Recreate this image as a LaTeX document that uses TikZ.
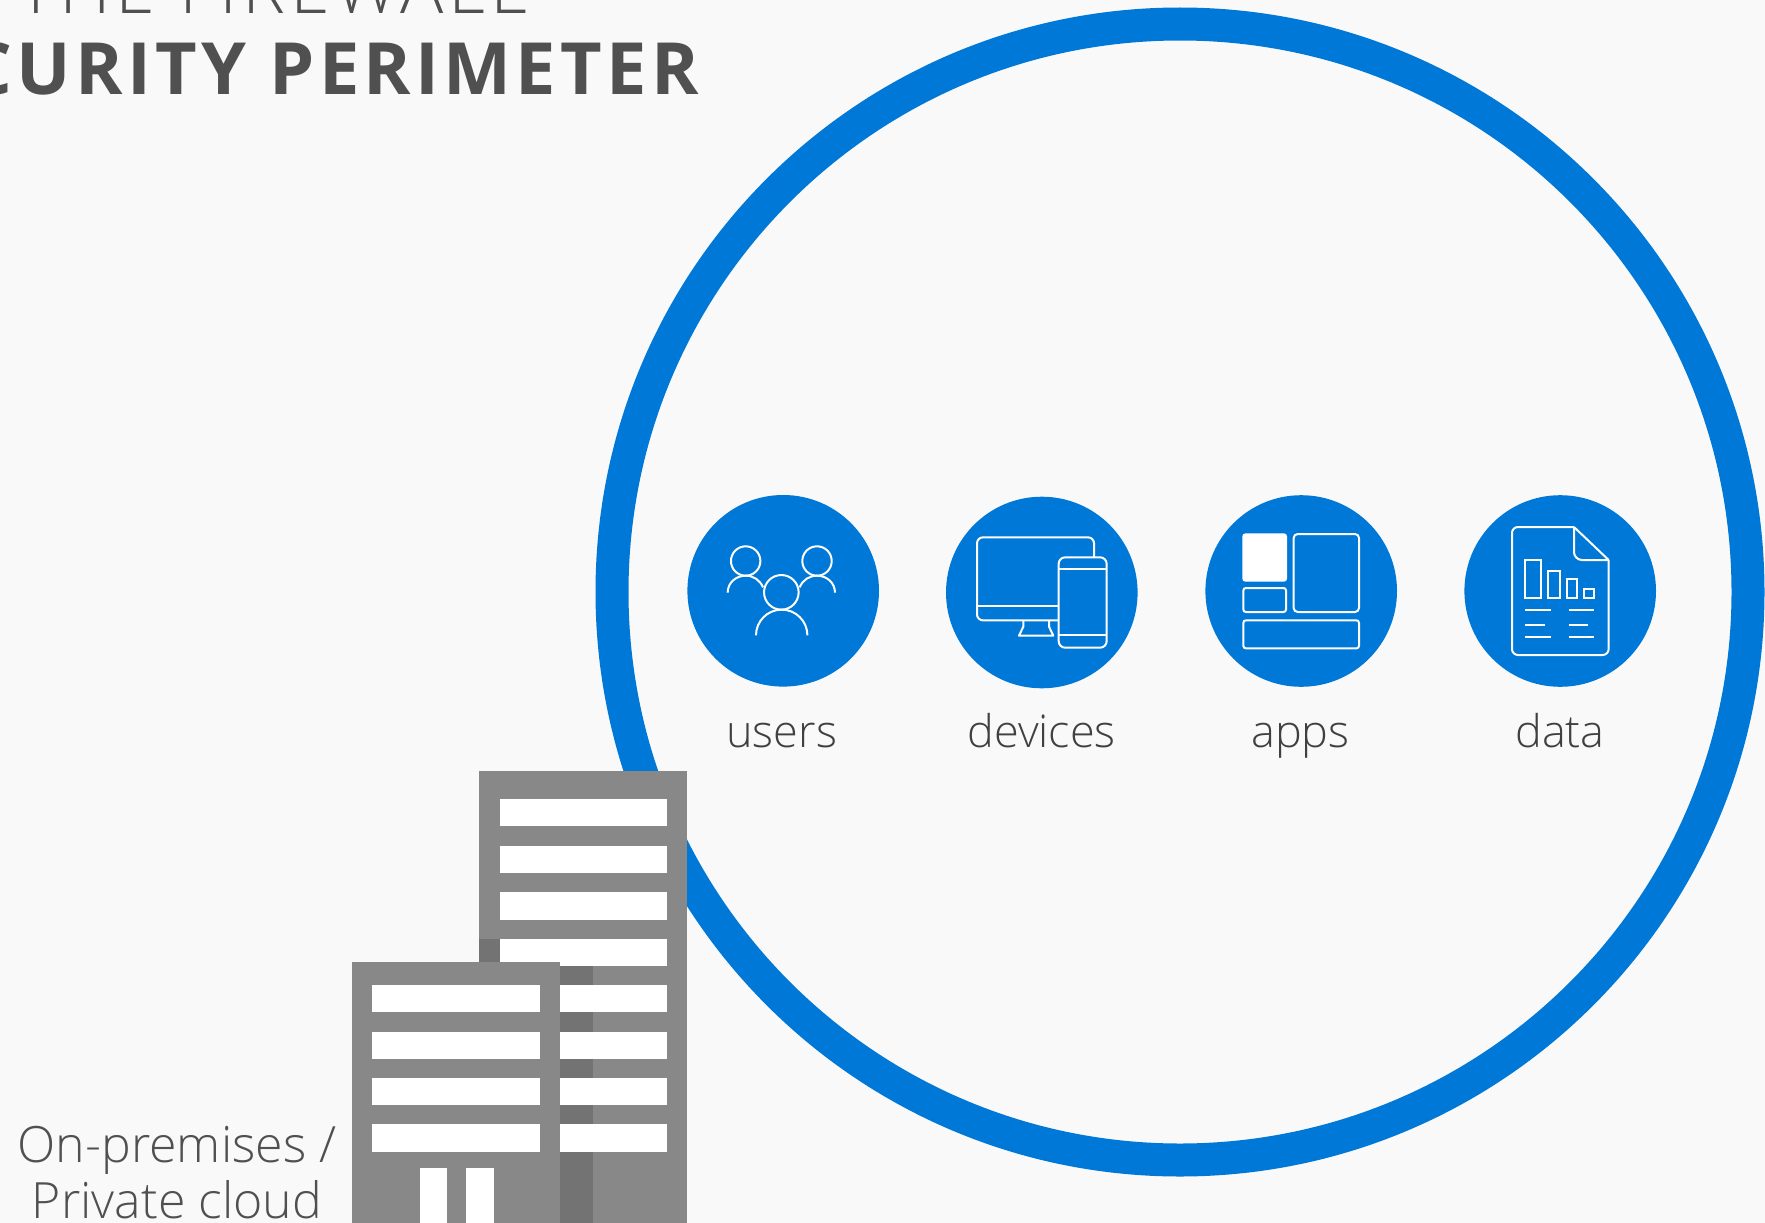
\documentclass[tikz,border=0pt]{standalone}
\usepackage{fontspec}
\setmainfont{Open Sans}
\newfontfamily\lightf[UprightFont={* Light}]{Open Sans}
\newfontfamily\lightspaced[UprightFont={* Light},LetterSpace=6.5]{Open Sans}
\newfontfamily\boldf[UprightFont={* Bold},LetterSpace=6]{Open Sans}
\definecolor{pagebg}{HTML}{F9F9F9}
\definecolor{msblue}{HTML}{0078D7}
\definecolor{bldg}{HTML}{888888}
\definecolor{bldgdark}{HTML}{737373}
\definecolor{labelgrey}{HTML}{404040}
\definecolor{titlegrey}{HTML}{505050}
\tikzset{
  badge/.style={circle,fill=msblue,draw=none,inner sep=0pt,minimum size=191.6pt},
  glyph/.style={draw=white,line width=2pt,fill=none},
  iconframe/.style={x=0.33333pt,y=-0.33333pt},
  itemlabel/.style={anchor=base,inner sep=0pt,text=labelgrey,font=\lightf\fontsize{45}{45}\selectfont},
  sitelabel/.style={anchor=base,inner sep=0pt,text=titlegrey,font=\lightf\fontsize{50}{50}\selectfont},
  titlethin/.style={anchor=base west,inner sep=0pt,text=titlegrey,font=\lightspaced\fontsize{72}{72}\selectfont},
  titlebold/.style={anchor=base west,inner sep=0pt,text=titlegrey,font=\boldf\fontsize{72}{72}\selectfont},
  win/.style={fill=white,draw=none},
}
\begin{document}
\begin{tikzpicture}[x=1pt,y=-1pt]
\useasboundingbox (0,0) rectangle (1765,1223);
\clip (0,0) rectangle (1765,1223);
\fill[pagebg] (0,0) rectangle (1765,1223);
% perimeter ring
\node[circle,draw=msblue,line width=33pt,fill=none,inner sep=0pt,minimum size=1136pt,outer sep=0pt] (ring) at (1180,592) {};
% title
\node[titlethin] (t1) at (17,14) {THE FIREWALL};
\node[titlebold] (t2) at (-33.5,94.5) {CURITY PERIMETER};
% badges
\node[badge] (users) at (783.2,590.8) {};
\node[badge] (devices) at (1041.8,592.5) {};
\node[badge] (apps) at (1301.2,591) {};
\node[badge] (data) at (1560.2,591) {};
% labels
\node[itemlabel] (lusers) at (781.7,747.3) {users};
\node[itemlabel] (ldevices) at (1041.7,747.3) {devices};
\node[itemlabel] (lapps) at (1300.5,747.3) {apps};
\node[itemlabel] (ldata) at (1560,747.3) {data};
% users icon
\begin{scope}[shift={(670,480)},iconframe]
\draw[glyph] (227,243) circle[radius=14.7pt];
\draw[glyph] (441,243) circle[radius=14.7pt];
\draw[glyph] (334,337) circle[radius=17.3pt];
\draw[glyph] (258,466) arc[start angle=180,end angle=0,radius=25.7pt];
\draw[glyph] (173,338) .. controls (173,308) and (198,287) .. (227,287) .. controls (250,287) and (270,300) .. (279,322);
\draw[glyph] (495,338) .. controls (495,308) and (470,287) .. (441,287) .. controls (418,287) and (398,300) .. (389,322);
\end{scope}
% devices icon
\begin{scope}[shift={(670,480)},iconframe]
\draw[glyph,rounded corners=6pt] (1272,232) -- (1272,172) -- (921,172) -- (921,421) -- (1166,421);
\draw[glyph] (921,377) -- (1166,377);
\draw[glyph,line join=round] (1060,421) -- (1060,440) -- (1047,467) -- (1150,467) -- (1137,440) -- (1137,421);
\draw[glyph,rounded corners=6.5pt] (1166,232) rectangle (1310,503);
\draw[glyph] (1166,268) -- (1310,268);
\draw[glyph] (1166,464) -- (1310,464);
\end{scope}
% apps icon
\begin{scope}[shift={(1190,480)},iconframe]
\fill[white,rounded corners=3pt] (157,160) rectangle (291,305);
\draw[glyph,rounded corners=4pt] (311,162) rectangle (507,396);
\draw[glyph,rounded corners=2.5pt] (160,324) rectangle (288,396);
\draw[glyph,rounded corners=2.5pt] (160,421) rectangle (507,505);
\end{scope}
% data icon
\begin{scope}[shift={(1190,480)},iconframe]
\draw[glyph,rounded corners=6pt,line join=round] (1152,141) -- (966,141) -- (966,525) -- (1256,525) -- (1256,240);
\draw[glyph,line join=round] (1256,240) -- (1152,141);
\draw[glyph,rounded corners=8pt] (1152,141) -- (1152,240) -- (1256,240);
\draw[glyph] (1005,240) rectangle (1054,353);
\draw[glyph] (1074,272) rectangle (1111,353);
\draw[glyph] (1131,297) rectangle (1162,353);
\draw[glyph] (1181,328) rectangle (1213,353);
\draw[glyph] (1006,391) -- (1083,391);
\draw[glyph] (1136,391) -- (1212,391);
\draw[glyph] (1006,434) -- (1065,434);
\draw[glyph] (1136,434) -- (1194,434);
\draw[glyph] (1006,472) -- (1083,472);
\draw[glyph] (1136,472) -- (1212,472);
\end{scope}
% back building
\fill[bldg] (479,771) rectangle (687,1223);
\fill[bldgdark] (479,939) rectangle (500,962);
\fill[bldgdark] (560,962) rectangle (593,1223);
\foreach \a/\b in {799/826,846/873,892/920,939/966,985/1012,1032/1059,1078/1105,1124/1152}
  \fill[win] (500,\a) rectangle (667,\b);
% front building
\fill[bldg] (352,962) rectangle (560,1223);
\foreach \a/\b in {985/1012,1032/1059,1078/1105,1124/1152}
  \fill[win] (372,\a) rectangle (540,\b);
\fill[win] (420,1168) rectangle (447,1223);
\fill[win] (466,1168) rectangle (494,1223);
% site label
\node[sitelabel] (site1) at (177,1162) {On-premises /};
\node[sitelabel] (site2) at (177,1218.5) {Private cloud};
\end{tikzpicture}
\end{document}
